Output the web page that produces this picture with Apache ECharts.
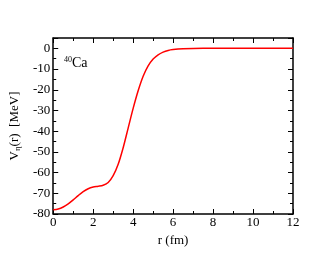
<!DOCTYPE html>
<html>
<head>
<meta charset="utf-8">
<script src="https://cdn.jsdelivr.net/npm/echarts@6/dist/echarts.min.js"></script>
<style>
  html, body { margin: 0; padding: 0; background: #fff; }
  #chart { width: 330px; height: 255px; }
</style>
</head>
<body>
<div id="chart"></div>
<script>
// r (fm) and V(r) (MeV)
var rVals = [0, 0.25, 0.5, 0.75, 1.0, 1.25, 1.5, 1.75, 2.0, 2.25, 2.5, 2.75, 3.0, 3.25, 3.5, 3.75,
  4.0, 4.25, 4.5, 4.75, 5.0, 5.25, 5.5, 5.75, 6.0, 6.5, 7.0, 8.0, 12.0];
var vVals = [-78, -77.6, -76.6, -75.1, -73.2, -71.1, -69.2, -67.8, -67.0, -66.6, -66.1, -64.8, -61.5, -56, -48, -38.5,
  -29, -20.5, -13.5, -8.5, -5.2, -3.1, -1.8, -1.0, -0.6, -0.2, -0.05, 0, 0];

var font = 'Liberation Serif';

var pts = [];
for (var i = 0; i < rVals.length; i++) {
  pts.push([rVals[i], vVals[i]]);
}

var myChart = echarts.init(document.getElementById('chart'));

var tickStyle = { color: '#000', width: 1 };

var option = {
  animation: false,
  grid: { left: 51, right: 37, top: 38, bottom: 41 },
  xAxis: [{
    type: 'value', min: 0, max: 12, interval: 2,
    name: 'r (fm)', nameLocation: 'middle', nameGap: 15,
    nameTextStyle: { fontFamily: font, fontSize: 13, color: '#000' },
    axisLine: { onZero: false, lineStyle: { color: '#000', width: 1.5 } },
    axisTick: { inside: true, length: 5, lineStyle: tickStyle },
    minorTick: { show: true, splitNumber: 2, length: 3, lineStyle: tickStyle },
    axisLabel: { fontFamily: font, fontSize: 13, color: '#000', margin: 2 },
    splitLine: { show: false }
  }, {
    type: 'value', min: 0, max: 12, interval: 2, position: 'top',
    axisLine: { onZero: false, lineStyle: { color: '#000', width: 1.5 } },
    axisTick: { inside: true, length: 5, lineStyle: tickStyle },
    minorTick: { show: true, splitNumber: 2, length: 3, lineStyle: tickStyle },
    axisLabel: { show: false },
    splitLine: { show: false }
  }],
  yAxis: [{
    type: 'value', min: -80, max: 5, interval: 10,
    name: '{a|V}{s|η}{a|(r)  [MeV]}', nameLocation: 'middle', nameGap: 24, nameRotate: 90,
    nameTextStyle: {
      rich: {
        a: { fontFamily: font, fontSize: 13, color: '#000' },
        s: { fontFamily: font, fontSize: 9, color: '#000', verticalAlign: 'bottom', padding: [6, 0, 0, 0] }
      }
    },
    axisLine: { onZero: false, lineStyle: { color: '#000', width: 1.5 } },
    axisTick: { inside: true, length: 5, lineStyle: tickStyle },
    minorTick: { show: true, splitNumber: 2, length: 3, lineStyle: tickStyle },
    axisLabel: { fontFamily: font, fontSize: 13, color: '#000', margin: 3, showMaxLabel: false },
    splitLine: { show: false }
  }, {
    type: 'value', min: -80, max: 5, interval: 10, position: 'right',
    axisLine: { onZero: false, lineStyle: { color: '#000', width: 1.5 } },
    axisTick: { inside: true, length: 5, lineStyle: tickStyle },
    minorTick: { show: true, splitNumber: 2, length: 3, lineStyle: tickStyle },
    axisLabel: { show: false },
    splitLine: { show: false }
  }],
  graphic: [{
    type: 'text', left: 64, top: 56,
    style: {
      text: '{s|40}{a|Ca}',
      rich: {
        s: { fontFamily: font, fontSize: 8, fill: '#000', verticalAlign: 'top', padding: [0, 0, 6, 0] },
        a: { fontFamily: font, fontSize: 14, fill: '#000' }
      }
    }
  }],
  series: [{
    type: 'line',
    data: pts,
    smooth: 0.3,
    showSymbol: false,
    lineStyle: { color: '#ff0000', width: 1.5 }
  }]
};

myChart.setOption(option);
</script>
</body>
</html>
